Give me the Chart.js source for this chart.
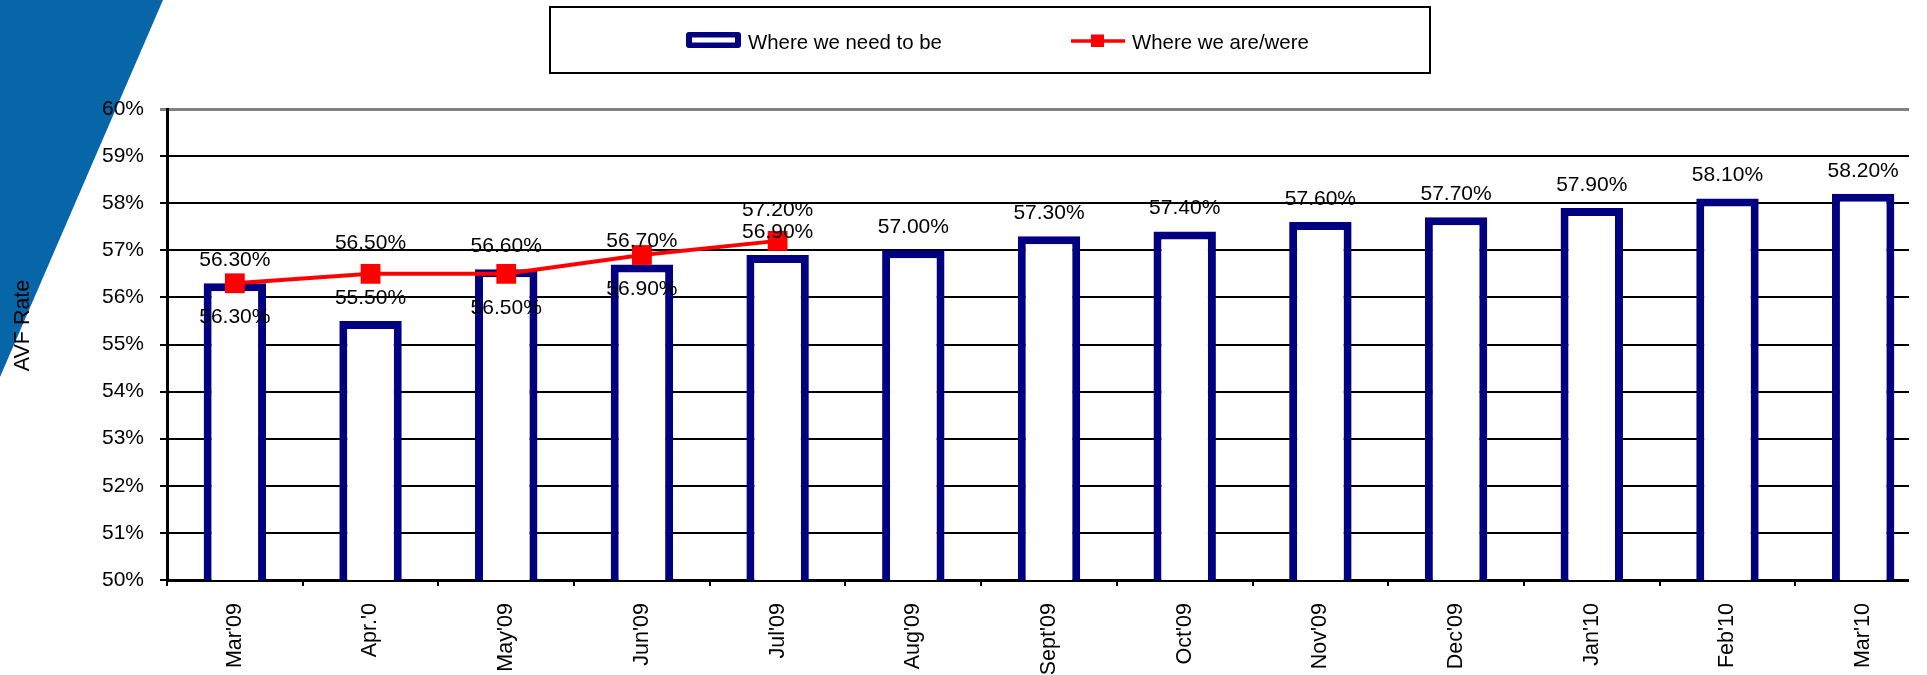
<!DOCTYPE html>
<html>
<head>
<meta charset="utf-8">
<script src="https://cdn.jsdelivr.net/npm/chart.js@4/dist/chart.umd.min.js"></script>
<style>
  html, body { margin: 0; padding: 0; background: #fff; overflow: hidden; }
  #wrap { width: 1927px; height: 675px; overflow: hidden; }
</style>
</head>
<body>
<div id="wrap"><canvas id="avfChart" width="1945" height="675"></canvas></div>
<script>
const months = ["Mar'09", "Apr.'0", "May'09", "Jun'09", "Jul'09", "Aug'09", "Sept'09",
  "Oct'09", "Nov'09", "Dec'09", "Jan'10", "Feb'10", "Mar'10"];
const targetRate = [56.3, 55.5, 56.6, 56.7, 56.9, 57.0, 57.3, 57.4, 57.6, 57.7, 57.9, 58.1, 58.2];
const actualRate = [56.3, 56.5, 56.5, 56.9, 57.2, null, null, null, null, null, null, null, null];
// where the red line's value labels sit relative to the marker
const actualLabelSide = ["below", "above", "below", "below", "above"];
const yMin = 50;
const yMax = 60;
const yStep = 1;

const FONT = "'Liberation Sans', Arial, Helvetica, sans-serif";
const NAVY = "#000080";
const RED = "#ff0000";

function pct(v) {
  return v.toFixed(2) + "%";
}

const decorPlugin = {
  id: "decor",
  beforeDraw(chart) {
    const ctx = chart.ctx;
    ctx.save();
    ctx.fillStyle = "#fff";
    ctx.fillRect(0, 0, chart.width, chart.height);
    // blue slide corner in the top left
    ctx.fillStyle = "#0766a8";
    ctx.beginPath();
    ctx.moveTo(0, 0);
    ctx.lineTo(163, 0);
    ctx.lineTo(0, 377);
    ctx.closePath();
    ctx.fill();
    ctx.restore();
  },
  beforeDatasetsDraw(chart) {
    // the original plot area is cut a little before the last category ends
    const { ctx, chartArea } = chart;
    ctx.save();
    ctx.fillStyle = "#fff";
    ctx.fillRect(1909, chartArea.top - 4, 60, chartArea.bottom - chartArea.top + 10);
    ctx.restore();
  },
  afterDatasetsDraw(chart) {
    const ctx = chart.ctx;
    ctx.save();
    ctx.font = "21px " + FONT;
    ctx.fillStyle = "#000";
    ctx.textAlign = "center";
    ctx.textBaseline = "middle";

    const barMeta = chart.getDatasetMeta(0);
    barMeta.data.forEach((bar, i) => {
      ctx.fillText(pct(targetRate[i]), bar.x, bar.y - 23);
    });

    const lineMeta = chart.getDatasetMeta(1);
    lineMeta.data.forEach((pt, i) => {
      if (actualRate[i] == null) return;
      const dy = actualLabelSide[i] === "above" ? -31 : 34;
      ctx.fillText(pct(actualRate[i]), pt.x, pt.y + dy);
    });
    ctx.restore();
  },
  afterDraw(chart) {
    const ctx = chart.ctx;
    ctx.save();

    // axis title
    ctx.save();
    ctx.translate(23.5, 325.5);
    ctx.rotate(-Math.PI / 2);
    ctx.font = "21.5px " + FONT;
    ctx.fillStyle = "#000";
    ctx.textAlign = "center";
    ctx.textBaseline = "middle";
    ctx.fillText("AVF Rate", 0, 0);
    ctx.restore();

    // legend box
    ctx.strokeStyle = "#000";
    ctx.lineWidth = 2;
    ctx.strokeRect(550, 7, 880, 66);

    ctx.font = "20.4px " + FONT;
    ctx.fillStyle = "#000";
    ctx.textAlign = "left";
    ctx.textBaseline = "alphabetic";

    const bars = chart.data.datasets[0];
    ctx.fillStyle = NAVY;
    ctx.beginPath();
    ctx.roundRect(686, 32, 55, 16, 3);
    ctx.fill();
    ctx.fillStyle = "#fff";
    ctx.fillRect(692, 37.5, 43, 5);
    ctx.fillStyle = "#000";
    ctx.fillText(bars.label, 748, 48.5);

    const line = chart.data.datasets[1];
    ctx.strokeStyle = RED;
    ctx.lineWidth = 3.5;
    ctx.beginPath();
    ctx.moveTo(1071, 41);
    ctx.lineTo(1125, 41);
    ctx.stroke();
    ctx.fillStyle = RED;
    ctx.fillRect(1091, 34.5, 13, 12.5);
    ctx.fillStyle = "#000";
    ctx.fillText(line.label, 1132, 48.5);

    ctx.restore();
  }
};

const ctx = document.getElementById("avfChart").getContext("2d");
new Chart(ctx, {
  data: {
    labels: months,
    datasets: [
      {
        type: "bar",
        label: "Where we need to be",
        data: targetRate,
        backgroundColor: "#fff",
        borderColor: NAVY,
        borderWidth: 8,
        borderSkipped: false,
        barPercentage: 0.46,
        categoryPercentage: 1,
        order: 2
      },
      {
        type: "line",
        label: "Where we are/were",
        data: actualRate,
        borderColor: RED,
        borderWidth: 4,
        pointStyle: "rect",
        pointRadius: 14,
        pointBackgroundColor: RED,
        pointBorderColor: RED,
        pointBorderWidth: 0,
        tension: 0,
        order: 1
      }
    ]
  },
  options: {
    responsive: false,
    animation: false,
    devicePixelRatio: 1,
    events: [],
    layout: { padding: { top: 109, right: 10, bottom: 0, left: 0 } },
    plugins: {
      legend: { display: false },
      tooltip: { enabled: false }
    },
    scales: {
      x: {
        offset: true,
        grid: {
          offset: true,
          drawOnChartArea: false,
          drawTicks: true,
          tickLength: 6,
          color: "#000",
          lineWidth: 2
        },
        border: { color: "#000", width: 3 },
        ticks: {
          color: "#000",
          font: { family: FONT, size: 21.5 },
          minRotation: 90,
          maxRotation: 90,
          padding: 17,
          autoSkip: false
        },
        afterFit(scale) {
          scale.height = 95;
        }
      },
      y: {
        min: yMin,
        max: yMax,
        ticks: {
          stepSize: yStep,
          callback: (v) => v + "%",
          color: "#000",
          font: { family: FONT, size: 21 },
          padding: 16
        },
        grid: {
          color: (c) => (c.tick && c.tick.value === yMax ? "#808080" : "#000"),
          lineWidth: (c) => (c.tick && c.tick.value === yMax ? 3 : 2),
          tickLength: 7
        },
        border: { color: "#000", width: 3 },
        afterFit(scale) {
          scale.width = 167;
        }
      }
    }
  },
  plugins: [decorPlugin]
});
</script>
</body>
</html>
